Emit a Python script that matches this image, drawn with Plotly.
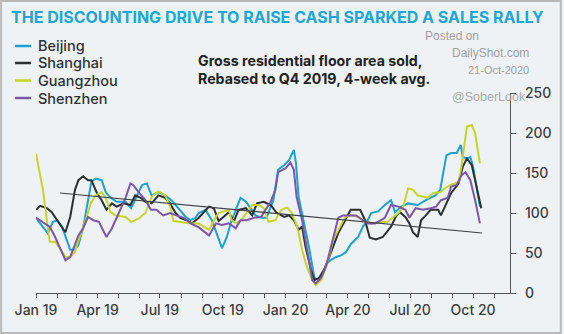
import plotly.graph_objects as go

# ---------------- data ----------------
gz_dates = ["2019-01-01","2019-01-11","2019-01-21","2019-01-29","2019-02-05","2019-02-13","2019-02-20","2019-02-27",
    "2019-03-01","2019-03-08","2019-03-16","2019-03-22","2019-03-29","2019-04-07","2019-04-13","2019-04-20","2019-04-27",
    "2019-05-12","2019-05-20","2019-05-31","2019-06-10","2019-06-19","2019-06-29","2019-07-09","2019-07-16","2019-07-21",
    "2019-08-02","2019-08-15","2019-08-27","2019-09-11","2019-09-21","2019-09-25","2019-10-10","2019-10-14","2019-10-21",
    "2019-10-28","2019-11-08","2019-11-13","2019-11-23","2019-11-30","2019-12-07","2019-12-17","2019-12-26","2020-01-03",
    "2020-01-10","2020-01-16","2020-01-20","2020-01-25","2020-02-01","2020-02-09","2020-02-14","2020-02-22","2020-02-29",
    "2020-03-06","2020-03-10","2020-03-18","2020-03-28","2020-04-06","2020-04-16","2020-04-26","2020-05-05","2020-05-15",
    "2020-05-29","2020-06-14","2020-06-21","2020-06-28","2020-07-05","2020-07-12","2020-07-27","2020-08-04","2020-08-14",
    "2020-08-21","2020-08-29","2020-09-05","2020-09-10","2020-09-14","2020-09-22","2020-09-29","2020-10-04","2020-10-11"]
gz_vals = [174,130,64,64,56,45,45,51,
    58,75,95,112,122,126,119,101,97,
    95,89,93,100,120,127,122,108,90,
    89,87,87,79,95,100,104,91,87,
    91,104,110,110,106,89,91,104,107,
    100,87,75,54,33,16,10,16,33,
    50,66,79,95,97,95,89,87,88,
    89,100,108,131,129,122,119,125,126,
    131,135,137,139,158,208,210,200,162]

bj_dates = ["2019-01-01","2019-01-11","2019-01-18","2019-01-26","2019-02-01","2019-02-08","2019-02-16","2019-02-20",
    "2019-02-27","2019-03-04","2019-03-11","2019-03-16","2019-03-23","2019-03-29","2019-04-07","2019-04-13","2019-04-20",
    "2019-04-29","2019-05-12","2019-05-20","2019-05-28","2019-06-05","2019-06-12","2019-06-19","2019-06-29","2019-07-09",
    "2019-07-18","2019-07-28","2019-08-08","2019-08-15","2019-08-22","2019-08-27","2019-09-06","2019-09-15","2019-09-25",
    "2019-09-30","2019-10-07","2019-10-14","2019-10-21","2019-10-27","2019-11-04","2019-11-11","2019-11-18","2019-11-27",
    "2019-12-04","2019-12-14","2019-12-21","2019-12-30","2020-01-06","2020-01-13","2020-01-16","2020-01-20","2020-01-27",
    "2020-02-04","2020-02-12","2020-02-19","2020-02-23","2020-03-01","2020-03-07","2020-03-15","2020-03-22","2020-03-29",
    "2020-04-06","2020-04-16","2020-04-23","2020-04-30","2020-05-05","2020-05-15","2020-05-25","2020-06-03","2020-06-09",
    "2020-06-18","2020-06-28","2020-07-12","2020-07-24","2020-08-07","2020-08-14","2020-08-18","2020-08-23","2020-08-30",
    "2020-09-07","2020-09-13","2020-09-16","2020-09-22","2020-09-27","2020-10-01","2020-10-05","2020-10-11"]
bj_vals = [94,83,75,89,91,83,62,54,
    54,60,82,104,139,143,141,126,119,
    114,114,106,120,135,137,122,126,122,
    116,106,95,91,94,100,104,91,66,
    56,70,91,106,119,114,106,97,94,
    94,116,154,160,166,179,163,120,91,
    58,19,16,20,37,41,45,47,51,
    62,70,83,91,100,102,110,116,101,
    108,112,110,116,122,129,150,172,175,
    175,185,170,168,170,158,137,108]

sh_dates = ["2019-01-01","2019-01-07","2019-01-17","2019-01-24","2019-02-01","2019-02-13","2019-02-20","2019-02-27",
    "2019-03-04","2019-03-11","2019-03-18","2019-03-23","2019-03-31","2019-04-07","2019-04-14","2019-04-22","2019-04-29",
    "2019-05-09","2019-05-19","2019-05-26","2019-06-03","2019-06-10","2019-06-19","2019-06-29","2019-07-09","2019-07-16",
    "2019-07-24","2019-07-31","2019-08-09","2019-08-17","2019-08-27","2019-09-11","2019-09-18","2019-09-25","2019-10-02",
    "2019-10-10","2019-10-17","2019-10-24","2019-11-04","2019-11-13","2019-11-20","2019-11-30","2019-12-10","2019-12-19",
    "2019-12-30","2020-01-06","2020-01-13","2020-01-20","2020-01-25","2020-01-30","2020-02-07","2020-02-12","2020-02-19",
    "2020-02-26","2020-03-03","2020-03-10","2020-03-18","2020-03-28","2020-04-05","2020-04-12","2020-04-19","2020-04-26",
    "2020-05-03","2020-05-12","2020-05-22","2020-06-03","2020-06-11","2020-06-16","2020-06-24","2020-06-30","2020-07-05",
    "2020-07-12","2020-07-17","2020-07-24","2020-07-31","2020-08-11","2020-08-15","2020-08-23","2020-08-30","2020-09-10",
    "2020-09-16","2020-09-22","2020-09-29","2020-10-05","2020-10-13"]
sh_vals = [104,109,106,101,91,76,95,129,
    141,146,141,141,125,116,104,112,108,
    112,110,122,119,114,112,122,119,112,
    100,94,91,87,94,108,106,90,95,
    101,89,104,106,97,112,114,110,100,
    95,97,91,79,83,58,29,16,19,
    29,41,58,75,91,104,104,104,91,
    69,67,70,83,97,101,95,87,76,
    70,91,97,104,104,97,112,125,137,
    158,168,160,137,106]

sz_dates = ["2019-01-01","2019-01-11","2019-01-21","2019-01-29","2019-02-05","2019-02-13","2019-02-20","2019-02-27",
    "2019-03-04","2019-03-11","2019-03-18","2019-03-26","2019-04-03","2019-04-07","2019-04-14","2019-04-22","2019-04-29",
    "2019-05-06","2019-05-12","2019-05-19","2019-05-23","2019-05-31","2019-06-10","2019-06-18","2019-06-26","2019-07-06",
    "2019-07-16","2019-07-25","2019-08-05","2019-08-15","2019-08-27","2019-09-11","2019-09-21","2019-09-30","2019-10-10",
    "2019-10-20","2019-10-27","2019-11-05","2019-11-16","2019-11-26","2019-12-03","2019-12-10","2019-12-17","2019-12-21",
    "2020-01-01","2020-01-08","2020-01-13","2020-01-17","2020-01-25","2020-02-01","2020-02-09","2020-02-14","2020-02-22",
    "2020-02-29","2020-03-06","2020-03-13","2020-03-18","2020-03-25","2020-04-05","2020-04-13","2020-04-23","2020-04-30",
    "2020-05-11","2020-05-19","2020-05-25","2020-06-03","2020-06-14","2020-06-24","2020-06-30","2020-07-09","2020-07-20",
    "2020-07-31","2020-08-08","2020-08-15","2020-08-25","2020-08-30","2020-09-07","2020-09-14","2020-09-20","2020-09-27",
    "2020-10-04","2020-10-11"]
sz_vals = [94,89,83,70,56,41,45,62,
    72,81,95,91,89,82,70,81,94,
    108,119,137,135,126,116,104,104,97,
    100,97,94,87,82,72,87,85,87,
    81,91,91,94,95,104,114,129,151,
    156,163,154,120,91,58,16,12,19,
    33,54,79,94,97,97,97,91,87,
    87,91,94,110,108,104,94,106,104,
    106,108,116,119,133,135,147,151,141,
    116,87]

trend_dates = ["2019-02-05", "2020-10-14"]
trend_vals = [125, 75]

city_names = ["Beijing", "Shanghai", "Guangzhou", "Shenzhen"]
city_colors = ["#1ba3d0", "#2b2f32", "#c6d52c", "#7c57a8"]
series_dates = [bj_dates, sh_dates, gz_dates, sz_dates]
series_vals = [bj_vals, sh_vals, gz_vals, sz_vals]

FONT = "Inter"
fig = go.Figure()
for name, d, v, c in zip(city_names, series_dates, series_vals, city_colors):
    fig.add_trace(go.Scatter(x=d, y=v, mode="lines", name=name,
                             line=dict(color=c, width=2)))
fig.add_trace(go.Scatter(x=trend_dates, y=trend_vals, mode="lines", showlegend=False,
                         line=dict(color="#3c4044", width=1.2)))

bg = "#eff2f5"
W, H = 564, 334
L, R, T, B = 36, 52, 93, 41
pw, ph = W - L - R, H - T - B

def px(x):
    return (x - L) / pw

def py(y):
    return (H - B - y) / ph

fig.update_layout(
    width=W, height=H,
    margin=dict(l=L, r=R, t=T, b=B, pad=0),
    paper_bgcolor=bg, plot_bgcolor=bg,
    font=dict(family=FONT, color="#333"),
    showlegend=False,
    xaxis=dict(type="date", range=["2019-01-01", "2020-11-24"],
               tickformat="%b %y", dtick="M3", tick0="2019-01-01",
               ticks="outside", ticklen=4, tickcolor="#555", tickwidth=1,
               minor=dict(dtick="M1", ticks="outside", ticklen=4, tickcolor="#555"),
               showline=True, linecolor="#555", linewidth=1.2, showgrid=False, zeroline=False,
               tickfont=dict(size=14, color="#3a3e42", family=FONT, weight=500)),
    yaxis=dict(side="right", range=[0, 250], tickvals=[0, 50, 100, 150, 200, 250],
               ticks="outside", ticklen=5, tickcolor="#555",
               showline=True, linecolor="#555", linewidth=1.2, showgrid=False, zeroline=False,
               ticklabelstandoff=6,
               tickfont=dict(size=14, color="#3a3e42", family=FONT, weight=500)),
)

# legend drawn as text + short line samples (compact row spacing)
legend_rows = [46, 63, 80.5, 98]
for name, c, yy in zip(city_names, city_colors, legend_rows):
    fig.add_annotation(xref="paper", yref="paper", x=px(36), y=py(yy), xanchor="left", yanchor="middle",
                       text=name, showarrow=False,
                       font=dict(size=14.5, color="#2e3236", family=FONT, weight=500))
    fig.add_shape(type="line", xref="paper", yref="paper", x0=px(15), x1=px(31), y0=py(yy), y1=py(yy),
                  line=dict(color=c, width=2.5))

ann = [
    dict(text="THE DISCOUNTING DRIVE TO RAISE CASH SPARKED A SALES RALLY", x=px(279), y=py(17),
         font=dict(size=16, color="#1ba8d6", family=FONT, weight="bold")),
    dict(text="Gross residential floor area sold,", x=px(197), y=py(60.5), xanchor="left",
         font=dict(size=14.2, color="#222", family=FONT, weight="bold")),
    dict(text="Rebased to Q4 2019, 4-week avg.", x=px(197), y=py(78.5), xanchor="left",
         font=dict(size=14.2, color="#222", family=FONT, weight="bold")),
    dict(text="Posted on", x=px(454), y=py(36), font=dict(size=12, color="#a0a0a0", family="Liberation Sans")),
    dict(text="DailyShot.com", x=px(492), y=py(53), font=dict(size=12, color="#a0a0a0", family="Liberation Sans")),
    dict(text="21-Oct-2020", x=px(500), y=py(70), font=dict(size=11, color="#a0a0a0", family="Liberation Sans")),
    dict(text="@SoberLook", x=px(491), y=py(97), font=dict(size=12.5, color="#a8a8a8", family="Liberation Sans")),
]
for a in ann:
    a.setdefault("xanchor", "center")
    fig.add_annotation(xref="paper", yref="paper", showarrow=False, yanchor="middle", **a)

fig.add_shape(type="rect", xref="paper", yref="paper", x0=px(1), x1=px(563), y0=py(333), y1=py(1),
              line=dict(color="#b9b9b9", width=2), fillcolor="rgba(0,0,0,0)", layer="below")

fig.write_html("out.html")
